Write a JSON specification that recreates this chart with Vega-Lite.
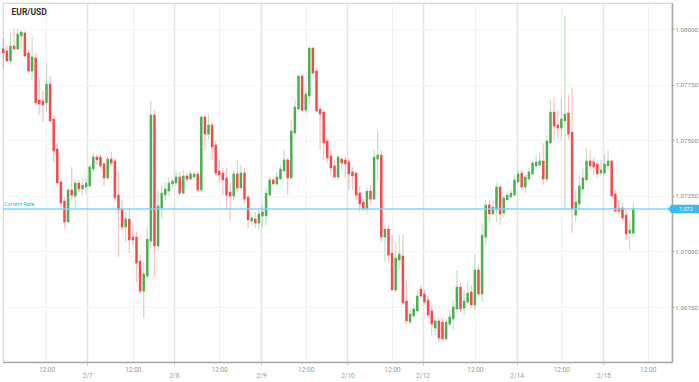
{
  "$schema": "https://vega.github.io/schema/vega-lite/v6.json",
  "width": 669,
  "height": 359,
  "autosize": {"type": "none"},
  "padding": {"left": 3, "top": 3, "right": 27, "bottom": 20},
  "background": "#ffffff",
  "config": {"view": {"stroke": "#d8d8d8", "strokeWidth": 1.2}, "font": "Roboto"},
  "title": {"text": "EUR/USD", "anchor": "start", "frame": "group", "fontSize": 8.5, "font": "Roboto", "fontWeight": "bold", "color": "#333333", "offset": -20, "baseline": "alphabetic", "dx": 8.5},
  "datasets": {
    "candles": [
      {"t":0,"o":1.07906,"h":1.0796,"l":1.07825,"c":1.07897},
      {"t":1,"o":1.07897,"h":1.07928,"l":1.07852,"c":1.07861},
      {"t":2,"o":1.07861,"h":1.07982,"l":1.07838,"c":1.07919},
      {"t":3,"o":1.07919,"h":1.08,"l":1.07906,"c":1.07915},
      {"t":4,"o":1.07915,"h":1.08,"l":1.07906,"c":1.07973},
      {"t":5,"o":1.07973,"h":1.07996,"l":1.07915,"c":1.07982},
      {"t":6,"o":1.07978,"h":1.07991,"l":1.07874,"c":1.07883},
      {"t":7,"o":1.07888,"h":1.07906,"l":1.07807,"c":1.07816},
      {"t":8,"o":1.07816,"h":1.07964,"l":1.07771,"c":1.0787},
      {"t":9,"o":1.07865,"h":1.07892,"l":1.07667,"c":1.07672},
      {"t":10,"o":1.07676,"h":1.07784,"l":1.07613,"c":1.07667},
      {"t":11,"o":1.07672,"h":1.07721,"l":1.07582,"c":1.07663},
      {"t":12,"o":1.07672,"h":1.07847,"l":1.07627,"c":1.07748},
      {"t":13,"o":1.07748,"h":1.07789,"l":1.07582,"c":1.07591},
      {"t":14,"o":1.07591,"h":1.07613,"l":1.07402,"c":1.07456},
      {"t":15,"o":1.07456,"h":1.07487,"l":1.07308,"c":1.07312},
      {"t":16,"o":1.07308,"h":1.0733,"l":1.072,"c":1.07222},
      {"t":17,"o":1.07222,"h":1.07245,"l":1.07105,"c":1.07137},
      {"t":18,"o":1.07137,"h":1.07285,"l":1.07128,"c":1.07272},
      {"t":19,"o":1.07272,"h":1.0738,"l":1.07231,"c":1.07258},
      {"t":20,"o":1.07254,"h":1.07321,"l":1.07195,"c":1.07303},
      {"t":21,"o":1.07303,"h":1.07321,"l":1.07267,"c":1.07285},
      {"t":22,"o":1.07285,"h":1.0733,"l":1.07254,"c":1.07294},
      {"t":23,"o":1.07294,"h":1.0733,"l":1.07258,"c":1.07303},
      {"t":24,"o":1.07299,"h":1.07389,"l":1.0729,"c":1.07375},
      {"t":25,"o":1.07375,"h":1.07438,"l":1.07357,"c":1.0742},
      {"t":26,"o":1.0742,"h":1.07438,"l":1.07389,"c":1.07416},
      {"t":27,"o":1.0742,"h":1.07438,"l":1.07375,"c":1.07389},
      {"t":28,"o":1.07389,"h":1.07402,"l":1.07294,"c":1.07335},
      {"t":29,"o":1.07335,"h":1.07425,"l":1.07321,"c":1.07411},
      {"t":30,"o":1.07411,"h":1.07447,"l":1.07389,"c":1.07402},
      {"t":31,"o":1.07402,"h":1.0742,"l":1.07231,"c":1.07245},
      {"t":32,"o":1.07249,"h":1.07357,"l":1.06975,"c":1.07191},
      {"t":33,"o":1.07186,"h":1.07231,"l":1.07096,"c":1.07114},
      {"t":34,"o":1.07114,"h":1.07177,"l":1.07042,"c":1.07141},
      {"t":35,"o":1.07141,"h":1.07195,"l":1.06993,"c":1.07056},
      {"t":36,"o":1.0706,"h":1.07119,"l":1.07029,"c":1.07056},
      {"t":37,"o":1.0706,"h":1.07087,"l":1.06862,"c":1.06952},
      {"t":38,"o":1.06952,"h":1.06984,"l":1.06808,"c":1.06826},
      {"t":39,"o":1.06826,"h":1.06952,"l":1.06701,"c":1.06894},
      {"t":40,"o":1.06894,"h":1.07105,"l":1.0688,"c":1.07051},
      {"t":41,"o":1.07051,"h":1.07676,"l":1.07015,"c":1.07609},
      {"t":42,"o":1.07609,"h":1.07636,"l":1.06885,"c":1.07029},
      {"t":43,"o":1.07029,"h":1.07276,"l":1.07006,"c":1.072},
      {"t":44,"o":1.072,"h":1.07299,"l":1.0715,"c":1.07258},
      {"t":45,"o":1.07258,"h":1.07312,"l":1.07231,"c":1.07276},
      {"t":46,"o":1.07276,"h":1.0733,"l":1.07249,"c":1.07303},
      {"t":47,"o":1.07308,"h":1.0733,"l":1.07285,"c":1.07312},
      {"t":48,"o":1.07312,"h":1.07357,"l":1.07294,"c":1.0733},
      {"t":49,"o":1.0733,"h":1.07357,"l":1.07254,"c":1.07267},
      {"t":50,"o":1.07267,"h":1.07366,"l":1.07254,"c":1.07335},
      {"t":51,"o":1.07335,"h":1.07353,"l":1.07312,"c":1.0733},
      {"t":52,"o":1.0733,"h":1.07362,"l":1.07321,"c":1.07344},
      {"t":53,"o":1.07339,"h":1.07357,"l":1.07321,"c":1.07344},
      {"t":54,"o":1.07344,"h":1.07362,"l":1.07267,"c":1.07281},
      {"t":55,"o":1.07281,"h":1.07613,"l":1.07267,"c":1.076},
      {"t":56,"o":1.076,"h":1.07613,"l":1.07456,"c":1.07532},
      {"t":57,"o":1.07532,"h":1.07618,"l":1.07501,"c":1.07564},
      {"t":58,"o":1.07564,"h":1.07582,"l":1.07411,"c":1.07474},
      {"t":59,"o":1.07474,"h":1.07496,"l":1.07339,"c":1.07357},
      {"t":60,"o":1.07357,"h":1.07411,"l":1.07312,"c":1.07348},
      {"t":61,"o":1.07348,"h":1.07375,"l":1.07254,"c":1.07326},
      {"t":62,"o":1.07326,"h":1.07375,"l":1.07186,"c":1.07258},
      {"t":63,"o":1.07263,"h":1.07312,"l":1.07132,"c":1.07254},
      {"t":64,"o":1.07254,"h":1.07366,"l":1.07231,"c":1.07344},
      {"t":65,"o":1.07344,"h":1.07411,"l":1.07267,"c":1.0729},
      {"t":66,"o":1.0729,"h":1.07389,"l":1.07276,"c":1.07348},
      {"t":67,"o":1.07348,"h":1.07375,"l":1.07218,"c":1.0724},
      {"t":68,"o":1.0724,"h":1.07254,"l":1.07105,"c":1.07146},
      {"t":69,"o":1.07141,"h":1.07164,"l":1.07119,"c":1.07146},
      {"t":70,"o":1.07141,"h":1.07177,"l":1.07105,"c":1.07132},
      {"t":71,"o":1.07132,"h":1.07186,"l":1.07096,"c":1.07164},
      {"t":72,"o":1.07164,"h":1.07209,"l":1.07105,"c":1.07173},
      {"t":73,"o":1.07164,"h":1.07285,"l":1.07119,"c":1.07258},
      {"t":74,"o":1.07258,"h":1.07335,"l":1.07249,"c":1.07317},
      {"t":75,"o":1.07317,"h":1.0733,"l":1.07299,"c":1.07308},
      {"t":76,"o":1.07308,"h":1.07357,"l":1.07294,"c":1.0733},
      {"t":77,"o":1.0733,"h":1.07389,"l":1.07321,"c":1.07366},
      {"t":78,"o":1.07366,"h":1.07456,"l":1.07357,"c":1.07407},
      {"t":79,"o":1.07407,"h":1.0742,"l":1.07254,"c":1.07335},
      {"t":80,"o":1.07335,"h":1.07591,"l":1.07326,"c":1.07537},
      {"t":81,"o":1.07537,"h":1.07681,"l":1.07523,"c":1.07645},
      {"t":82,"o":1.07645,"h":1.07793,"l":1.07636,"c":1.07784},
      {"t":83,"o":1.07784,"h":1.07802,"l":1.07627,"c":1.0764},
      {"t":84,"o":1.0764,"h":1.07726,"l":1.07622,"c":1.07703},
      {"t":85,"o":1.07703,"h":1.07919,"l":1.07658,"c":1.0791},
      {"t":86,"o":1.0791,"h":1.07919,"l":1.07793,"c":1.07807},
      {"t":87,"o":1.07807,"h":1.07825,"l":1.07627,"c":1.07636},
      {"t":88,"o":1.07636,"h":1.07658,"l":1.07456,"c":1.07622},
      {"t":89,"o":1.07622,"h":1.07636,"l":1.07411,"c":1.07492},
      {"t":90,"o":1.07492,"h":1.0751,"l":1.07398,"c":1.07425},
      {"t":91,"o":1.07425,"h":1.07456,"l":1.07344,"c":1.0738},
      {"t":92,"o":1.0738,"h":1.07411,"l":1.0733,"c":1.07339},
      {"t":93,"o":1.07339,"h":1.07434,"l":1.07321,"c":1.0742},
      {"t":94,"o":1.07411,"h":1.07429,"l":1.07366,"c":1.07402},
      {"t":95,"o":1.07407,"h":1.07425,"l":1.0733,"c":1.07398},
      {"t":96,"o":1.07398,"h":1.0742,"l":1.07276,"c":1.07353},
      {"t":97,"o":1.07353,"h":1.0738,"l":1.07276,"c":1.07344},
      {"t":98,"o":1.07348,"h":1.07357,"l":1.07231,"c":1.07258},
      {"t":99,"o":1.07258,"h":1.07294,"l":1.07177,"c":1.07218},
      {"t":100,"o":1.07218,"h":1.0724,"l":1.07177,"c":1.07195},
      {"t":101,"o":1.07195,"h":1.07285,"l":1.07164,"c":1.07267},
      {"t":102,"o":1.07267,"h":1.07299,"l":1.07209,"c":1.0724},
      {"t":103,"o":1.0724,"h":1.07456,"l":1.07231,"c":1.0742},
      {"t":104,"o":1.0742,"h":1.07546,"l":1.07321,"c":1.07429},
      {"t":105,"o":1.07429,"h":1.07456,"l":1.07042,"c":1.07069},
      {"t":106,"o":1.07069,"h":1.07119,"l":1.06952,"c":1.07096},
      {"t":107,"o":1.07096,"h":1.07119,"l":1.06952,"c":1.06988},
      {"t":108,"o":1.06988,"h":1.07074,"l":1.06826,"c":1.06831},
      {"t":109,"o":1.06831,"h":1.07042,"l":1.06817,"c":1.06966},
      {"t":110,"o":1.06966,"h":1.07074,"l":1.06916,"c":1.06984},
      {"t":111,"o":1.06975,"h":1.07074,"l":1.06759,"c":1.06773},
      {"t":112,"o":1.06773,"h":1.06871,"l":1.06674,"c":1.06692},
      {"t":113,"o":1.06687,"h":1.06737,"l":1.06674,"c":1.06714},
      {"t":114,"o":1.06714,"h":1.06759,"l":1.06701,"c":1.06737},
      {"t":115,"o":1.06737,"h":1.06826,"l":1.06728,"c":1.06795},
      {"t":116,"o":1.06826,"h":1.06849,"l":1.06791,"c":1.06804},
      {"t":117,"o":1.06804,"h":1.06826,"l":1.06759,"c":1.06777},
      {"t":118,"o":1.06777,"h":1.068,"l":1.06701,"c":1.06719},
      {"t":119,"o":1.06728,"h":1.06759,"l":1.06624,"c":1.06678},
      {"t":120,"o":1.0666,"h":1.06701,"l":1.06624,"c":1.06683},
      {"t":121,"o":1.06683,"h":1.06701,"l":1.06588,"c":1.06615},
      {"t":122,"o":1.06678,"h":1.06701,"l":1.06602,"c":1.06611},
      {"t":123,"o":1.06611,"h":1.06701,"l":1.06602,"c":1.06678},
      {"t":124,"o":1.06678,"h":1.06737,"l":1.06665,"c":1.06701},
      {"t":125,"o":1.06701,"h":1.06782,"l":1.06647,"c":1.06746},
      {"t":126,"o":1.06746,"h":1.06916,"l":1.06728,"c":1.06835},
      {"t":127,"o":1.06835,"h":1.06862,"l":1.06728,"c":1.06746},
      {"t":128,"o":1.0675,"h":1.06826,"l":1.06714,"c":1.06773},
      {"t":129,"o":1.06777,"h":1.06862,"l":1.06764,"c":1.06808},
      {"t":130,"o":1.06813,"h":1.06849,"l":1.06746,"c":1.06764},
      {"t":131,"o":1.06764,"h":1.06984,"l":1.06737,"c":1.06912},
      {"t":132,"o":1.06912,"h":1.06939,"l":1.068,"c":1.06813},
      {"t":133,"o":1.06813,"h":1.07128,"l":1.06773,"c":1.07069},
      {"t":134,"o":1.07069,"h":1.07231,"l":1.07029,"c":1.07204},
      {"t":135,"o":1.07204,"h":1.07231,"l":1.07132,"c":1.07173},
      {"t":136,"o":1.07173,"h":1.07231,"l":1.07164,"c":1.07195},
      {"t":137,"o":1.07191,"h":1.07308,"l":1.07132,"c":1.07285},
      {"t":138,"o":1.07285,"h":1.07299,"l":1.07119,"c":1.07173},
      {"t":139,"o":1.07177,"h":1.07254,"l":1.0715,"c":1.07236},
      {"t":140,"o":1.07236,"h":1.07267,"l":1.07231,"c":1.07249},
      {"t":141,"o":1.07249,"h":1.07276,"l":1.0724,"c":1.07258},
      {"t":142,"o":1.07258,"h":1.07344,"l":1.07249,"c":1.07317},
      {"t":143,"o":1.07317,"h":1.07366,"l":1.07308,"c":1.07344},
      {"t":144,"o":1.07348,"h":1.07366,"l":1.07276,"c":1.07294},
      {"t":145,"o":1.07294,"h":1.07344,"l":1.07263,"c":1.0733},
      {"t":146,"o":1.0733,"h":1.07375,"l":1.07321,"c":1.07353},
      {"t":147,"o":1.07353,"h":1.07411,"l":1.07344,"c":1.07393},
      {"t":148,"o":1.07389,"h":1.07434,"l":1.07366,"c":1.07398},
      {"t":149,"o":1.07393,"h":1.07447,"l":1.07384,"c":1.07402},
      {"t":150,"o":1.07402,"h":1.07487,"l":1.07299,"c":1.0733},
      {"t":151,"o":1.0733,"h":1.07523,"l":1.07312,"c":1.07492},
      {"t":152,"o":1.07492,"h":1.07681,"l":1.07478,"c":1.07622},
      {"t":153,"o":1.07622,"h":1.07694,"l":1.07501,"c":1.07568},
      {"t":154,"o":1.07564,"h":1.07636,"l":1.0751,"c":1.07559},
      {"t":155,"o":1.07559,"h":1.0769,"l":1.07501,"c":1.07591},
      {"t":156,"o":1.07591,"h":1.08059,"l":1.07195,"c":1.07613},
      {"t":157,"o":1.07618,"h":1.07703,"l":1.07501,"c":1.07532},
      {"t":158,"o":1.07532,"h":1.07735,"l":1.07083,"c":1.07195},
      {"t":159,"o":1.07168,"h":1.07276,"l":1.07132,"c":1.07218},
      {"t":160,"o":1.07218,"h":1.07344,"l":1.07186,"c":1.0729},
      {"t":161,"o":1.07285,"h":1.07375,"l":1.07276,"c":1.07326},
      {"t":162,"o":1.07326,"h":1.07465,"l":1.07317,"c":1.07402},
      {"t":163,"o":1.07402,"h":1.07456,"l":1.07366,"c":1.07389},
      {"t":164,"o":1.07398,"h":1.0742,"l":1.07344,"c":1.07384},
      {"t":165,"o":1.07389,"h":1.07411,"l":1.0733,"c":1.07353},
      {"t":166,"o":1.07357,"h":1.07411,"l":1.07339,"c":1.07362},
      {"t":167,"o":1.07357,"h":1.07434,"l":1.07344,"c":1.07389},
      {"t":168,"o":1.07389,"h":1.07456,"l":1.07366,"c":1.07402},
      {"t":169,"o":1.07402,"h":1.07411,"l":1.07245,"c":1.07254},
      {"t":170,"o":1.07254,"h":1.07276,"l":1.07177,"c":1.07186},
      {"t":171,"o":1.07191,"h":1.07231,"l":1.07164,"c":1.07186},
      {"t":172,"o":1.07191,"h":1.07218,"l":1.07132,"c":1.07155},
      {"t":173,"o":1.07159,"h":1.07186,"l":1.07051,"c":1.07083},
      {"t":174,"o":1.07087,"h":1.07141,"l":1.07006,"c":1.07092},
      {"t":175,"o":1.07087,"h":1.07218,"l":1.07065,"c":1.07186}
    ],
    "rate": [{"rate": 1.07191, "name": "Current Rate", "label": "1.072"}]
  },
  "layer": [
    {
      "data": {"name": "candles"},
      "mark": {"type": "rule", "strokeWidth": 1.2, "opacity": 0.35},
      "encoding": {
        "x": {
          "field": "t", "type": "quantitative", "title": null,
          "scale": {"domain": [-0.08, 185.75], "nice": false, "zero": false},
          "axis": {
            "values": [12, 23.33, 36, 47.4, 60, 71.6, 84, 95.6, 108, 116.5, 131, 142.6, 155, 166.7, 179],
            "labelExpr": "datum.value % 1 == 0 ? '12:00' : datum.value < 30 ? '2/7' : datum.value < 50 ? '2/8' : datum.value < 80 ? '2/9' : datum.value < 100 ? '2/10' : datum.value < 120 ? '2/12' : datum.value < 150 ? '2/14' : '2/15'",
            "grid": true,
            "gridColor": {"condition": {"test": "datum.value % 1 == 0", "value": "#f3f3f3"}, "value": "#e4e4e4"},
            "gridWidth": {"condition": {"test": "datum.value % 1 == 0", "value": 1}, "value": 1.5},
            "domainColor": "#a8a8a8",
            "domainWidth": 1.5,
            "tickSize": 3,
            "tickColor": {"condition": {"test": "datum.value % 1 == 0", "value": "#ffffff"}, "value": "#b0b0b0"},
            "tickDash": [1, 1],
            "labelFontSize": 6.5,
            "labelColor": "#999999",
            "labelPadding": {"condition": {"test": "datum.value % 1 == 0", "value": 1}, "value": 7},
            "labelFlush": false,
            "labelOverlap": false
          }
        },
        "y": {
          "field": "l", "type": "quantitative", "title": null,
          "scale": {"domain": [1.06503, 1.08117], "nice": false, "zero": false},
          "axis": {
            "orient": "right",
            "values": [1.0675, 1.07, 1.0725, 1.075, 1.0775, 1.08],
            "format": ".5f",
            "grid": true,
            "gridColor": "#f4f4f4",
            "domainColor": "#a8a8a8",
            "domainWidth": 1.5,
            "tickSize": 2,
            "tickColor": "#a8a8a8",
            "labelFontSize": 6.2,
            "labelColor": "#888888",
            "labelPadding": 1
          }
        },
        "y2": {"field": "h"},
        "color": {"condition": {"test": "datum.c >= datum.o", "value": "#4caf50"}, "value": "#f44a4a"}
      }
    },
    {
      "data": {"name": "candles"},
      "mark": {"type": "rule", "strokeWidth": 2.5, "strokeCap": "square"},
      "encoding": {
        "x": {"field": "t", "type": "quantitative", "title": null},
        "y": {"field": "o", "type": "quantitative", "title": null},
        "y2": {"field": "c"},
        "color": {"condition": {"test": "datum.c >= datum.o", "value": "#4caf50"}, "value": "#f44a4a"}
      }
    },
    {
      "data": {"name": "rate"},
      "mark": {"type": "rule", "color": "#7fd4f5", "strokeWidth": 1.6},
      "encoding": {"y": {"field": "rate", "type": "quantitative", "title": null}}
    },
    {
      "data": {"name": "rate"},
      "mark": {"type": "text", "align": "left", "baseline": "bottom", "dx": 1, "dy": -2, "fontSize": 5.5, "color": "#29b6f6"},
      "encoding": {
        "x": {"datum": -0.08, "type": "quantitative"},
        "y": {"field": "rate", "type": "quantitative", "title": null},
        "text": {"field": "name"}
      }
    },
    {
      "data": {"name": "rate"},
      "mark": {"type": "point", "shape": "M-1,0L-0.77,-0.28L1,-0.28L1,0.28L-0.77,0.28Z", "size": 961, "filled": true, "color": "#35bdf2", "opacity": 1, "strokeWidth": 0},
      "encoding": {
        "x": {"datum": 188.94, "type": "quantitative"},
        "y": {"field": "rate", "type": "quantitative", "title": null}
      }
    },
    {
      "data": {"name": "rate"},
      "mark": {"type": "text", "align": "center", "baseline": "middle", "fontSize": 5.5, "color": "#ffffff"},
      "encoding": {
        "x": {"datum": 189.6, "type": "quantitative"},
        "y": {"field": "rate", "type": "quantitative", "title": null},
        "text": {"field": "label"}
      }
    }
  ]
}
